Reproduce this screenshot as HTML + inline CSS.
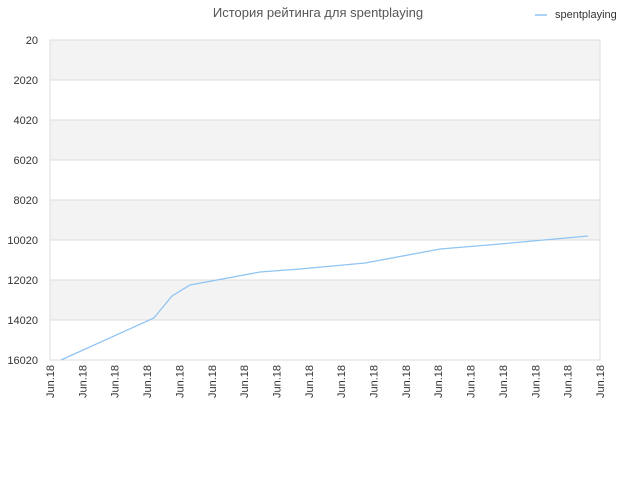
<!DOCTYPE html>
<html><head><meta charset="utf-8"><style>
body{margin:0;background:#fff;}
svg{display:block;font-family:"Liberation Sans","DejaVu Sans",sans-serif;}
</style></head><body>
<svg id="c" width="640" height="480">
<text x="318" y="17" text-anchor="middle" font-size="13" fill="#555">История рейтинга для spentplaying</text>
<g>
<line x1="535" y1="15" x2="547" y2="15" stroke="#90c4f4" stroke-width="1.5"/>
<text x="555" y="18" font-size="11" fill="#333">spentplaying</text>
</g>
<g id="plot"></g>
</svg>
<script>
const yTicks=[20,2020,4020,6020,8020,10020,12020,14020,16020];
const xLabels=["Jun.18","Jun.18","Jun.18","Jun.18","Jun.18","Jun.18","Jun.18","Jun.18","Jun.18","Jun.18","Jun.18","Jun.18","Jun.18","Jun.18","Jun.18","Jun.18","Jun.18","Jun.18"];
const seriesX=[0.34,3.21,3.49,3.77,4.33,6.49,7.73,9.74,12.06,13.91,16.63];
const seriesY=[16020,13920,13370,12820,12270,11620,11470,11170,10470,10220,9820];

const L=50,R=600,T=40,B=360;
const NS="http://www.w3.org/2000/svg";
const g=document.getElementById('plot');
function yS(v){return T+(v-yTicks[0])/(yTicks[yTicks.length-1]-yTicks[0])*(B-T);}
function xS(i){return L+i/(xLabels.length-1)*(R-L);}
function mk(t,a,p){const e=document.createElementNS(NS,t);for(const k in a)e.setAttribute(k,a[k]);(p||g).appendChild(e);return e;}
for(let i=0;i<yTicks.length-1;i++){
  const r=mk('rect',{x:L,y:yS(yTicks[i]),width:R-L,height:yS(yTicks[i+1])-yS(yTicks[i]),fill:i%2==0?'#f3f3f3':'#fff'});
  
  
}
yTicks.forEach(v=>{
  const y=yS(v);
  const l=mk('line',{x1:L,x2:R,y1:y,y2:y,stroke:'#ddd','stroke-width':1});
  
  
  const t=mk('text',{x:38,y:y+4,'text-anchor':'end','font-size':11,fill:'#333'});
  t.textContent=v;
  
  
});
const bx=mk('rect',{x:L,y:T,width:R-L,height:B-T,fill:'none',stroke:'#ddd'});


xLabels.forEach((s,i)=>{
  const x=xS(i);
  const t=mk('text',{transform:`translate(${x+4},${B+5}) rotate(-90)`,'text-anchor':'end','font-size':11,fill:'#333'});
  t.textContent=s;
  
  
});
const pts=seriesX.map((x,i)=>xS(x).toFixed(1)+','+yS(seriesY[i]).toFixed(1)).join(' ');
const pl=mk('polyline',{points:pts,fill:'none',stroke:'#90c4f4','stroke-width':1.3});


</script>
</body></html>
